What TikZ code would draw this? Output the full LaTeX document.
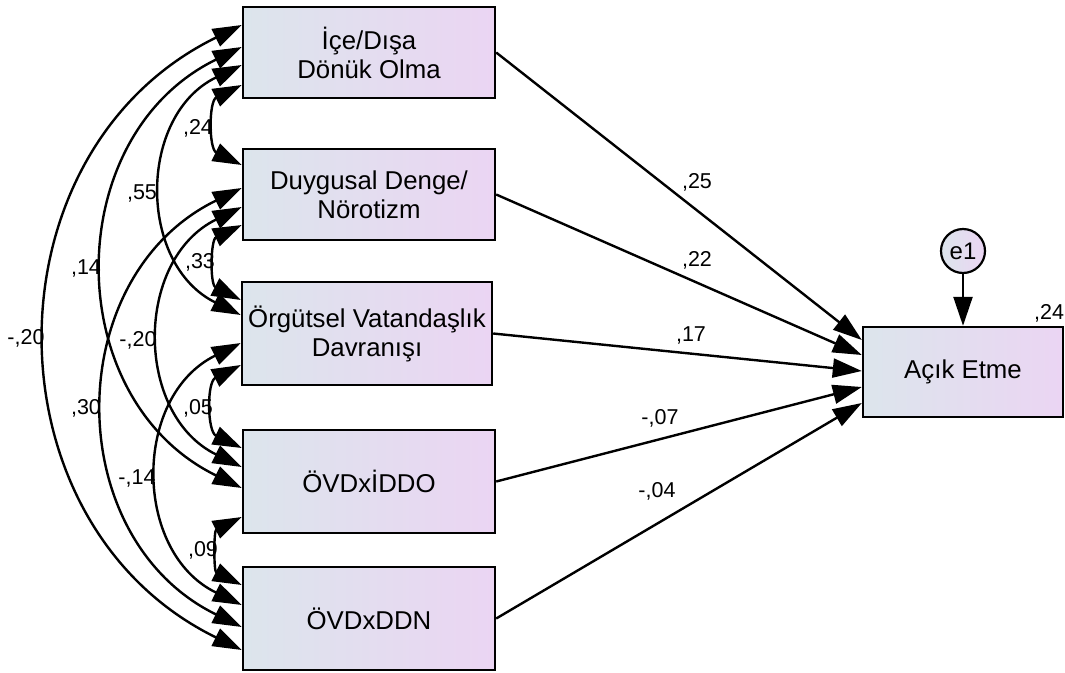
\documentclass[tikz,border=0pt]{standalone}
\usepackage{fontspec}
\setmainfont{Liberation Sans}
\usetikzlibrary{arrows.meta}
\definecolor{boxl}{RGB}{220,229,236}
\definecolor{boxr}{RGB}{235,213,243}
\begin{document}
\begin{tikzpicture}[x=1pt,y=-1pt,
  box/.style={draw=black, line width=2.4pt, left color=boxl, right color=boxr,
    minimum width=252pt, inner sep=0pt, align=center,
    font=\fontsize{25.8}{29}\selectfont},
  lab/.style={font=\fontsize{21.5}{23}\selectfont, inner sep=0pt},
  cov/.style={line width=2.4pt,
    {Triangle[length=29pt,width=19pt]}-{Triangle[length=29pt,width=19pt]},
    bend right=64, looseness=1.18},
  reg/.style={line width=2.4pt, -{Triangle[length=29pt,width=19pt]}},
]
\useasboundingbox (0,0) rectangle (1065,672);

% observed variables
\node[box, minimum height=91pt] (b1) at (369,52.5) {İçe/Dışa\\Dönük Olma};
\node[box, minimum height=91pt] (b2) at (369,194.5) {Duygusal Denge/\\Nörotizm};
\node[box, minimum height=103pt, minimum width=250pt] (b3) at (367,333.5) {Örgütsel Vatandaşlık\\Davranışı};
\node[box, minimum height=103pt] (b4) at (369,481.5) {ÖVDxİDDO};
\node[box, minimum height=103pt] (b5) at (369,618.5) {ÖVDxDDN};
\node[box, minimum width=200pt, minimum height=90pt] (y) at (963,372) {Açık Etme};
\node[circle, draw=black, line width=2.2pt, minimum size=44pt, inner sep=0pt,
  left color=boxl, right color=boxr, font=\fontsize{24}{24}\selectfont] (e1) at (963,251) {e1};

% covariances
\draw[cov] (b1.west |- 0,25) to (b5.west |- 0,650);
\draw[cov] (b1.west |- 0,47) to (b4.west |- 0,488);
\draw[cov] (b1.west |- 0,65) to (b3.west |- 0,315);
\draw[cov] (b1.west |- 0,85) to (b2.west |- 0,165);
\draw[cov] (b2.west |- 0,188) to (b5.west |- 0,627);
\draw[cov] (b2.west |- 0,207) to (b4.west |- 0,467);
\draw[cov] (b2.west |- 0,225) to (b3.west |- 0,300);
\draw[cov] (b3.west |- 0,343) to (b5.west |- 0,605);
\draw[cov] (b3.west |- 0,365) to (b4.west |- 0,448);
\draw[cov] (b4.west |- 0,517) to (b5.west |- 0,585);

% regressions
\draw[reg] (b1.east) -- (y.west |- 0,340);
\draw[reg] (b2.east) -- (y.west |- 0,355);
\draw[reg] (b3.east) -- (y.west |- 0,371);
\draw[reg] (b4.east) -- (y.west |- 0,387);
\draw[reg] (b5.east) -- (y.west |- 0,403);
\draw[reg] (e1) -- (y);

% labels
\node[lab] (c24) at (198,128) {,24};
\node[lab] (c33) at (200,262) {,33};
\node[lab] (c05) at (198,408) {,05};
\node[lab] (c09) at (203,550) {,09};
\node[lab] (c55) at (142,193) {,55};
\node[lab] (c14) at (86,268) {,14};
\node[lab] (c20a) at (26,338) {-,20};
\node[lab] (c20b) at (138,340) {-,20};
\node[lab] (c30) at (86,408) {,30};
\node[lab] (c14n) at (137,478) {-,14};
\node[lab] (r25) at (697,182) {,25};
\node[lab] (r22) at (697,260) {,22};
\node[lab] (r17) at (691,335) {,17};
\node[lab] (r07) at (660,418) {-,07};
\node[lab] (r04) at (657,491) {-,04};
\node[lab] (rsq) at (1049,313) {,24};
\end{tikzpicture}
\end{document}
